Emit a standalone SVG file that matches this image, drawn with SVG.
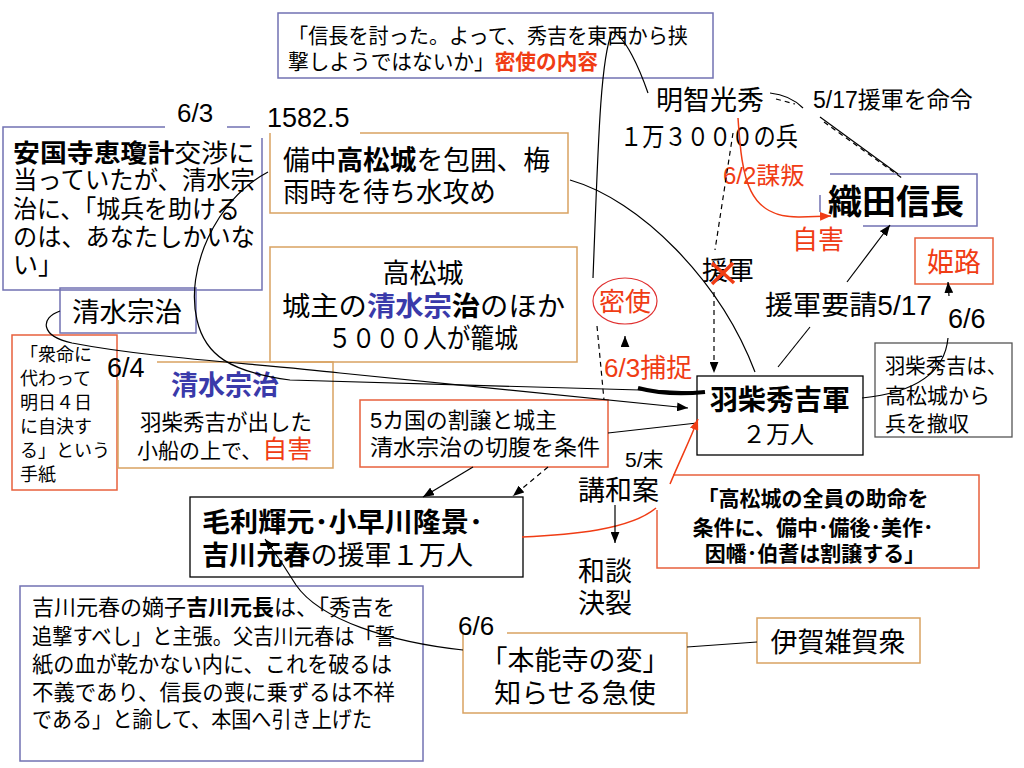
<svg xmlns="http://www.w3.org/2000/svg" width="1024" height="768" viewBox="0 0 1024 768">
<defs>
<style>
text{font-family:"Liberation Sans","Noto Sans CJK JP",sans-serif;fill:#000}
.b{font-weight:bold}
.r{fill:#F03C14}
.u{fill:#3A3AAA}
.bn{fill:none;stroke:#7272B2;stroke-width:1.5}
.bt{fill:none;stroke:#D9A262;stroke-width:1.5}
.br{fill:none;stroke:#E8603C;stroke-width:1.5}
.bk{fill:none;stroke:#000;stroke-width:1.3}
.bg{fill:none;stroke:#555;stroke-width:1.3}
.ln{fill:none;stroke:#000;stroke-width:1.2}
.lr{fill:none;stroke:#F03C14;stroke-width:1.5}
.d{stroke-dasharray:5,4}
</style>
<marker id="ah" viewBox="0 0 10 8" refX="10" refY="4" markerWidth="11" markerHeight="9" markerUnits="userSpaceOnUse" orient="auto"><path d="M0,0 L10,4 L0,8 z" fill="#000"/></marker>
<marker id="ahr" viewBox="0 0 10 8" refX="10" refY="4" markerWidth="11" markerHeight="9" markerUnits="userSpaceOnUse" orient="auto"><path d="M0,0 L10,4 L0,8 z" fill="#F03C14"/></marker>
</defs>
<rect width="1024" height="768" fill="#fff"/>

<g id="n-secret-content">
<rect x="278" y="13" width="435" height="65" class="bn"/>
<text x="288" y="43" font-size="21" textLength="400" lengthAdjust="spacingAndGlyphs">「信長を討った。よって、秀吉を東西から挟</text>
<text x="288" y="69" font-size="21" textLength="310" lengthAdjust="spacingAndGlyphs">撃しようではないか」<tspan class="r b">密使の内容</tspan></text>
</g>

<g id="n-ankokuji">
<path d="M165,127 H3 V290 H262 V138 M227,127 H250" class="bn"/>
<text x="13" y="162" font-size="25" textLength="242" lengthAdjust="spacingAndGlyphs"><tspan class="b">安国寺恵瓊計</tspan>交渉に</text>
<text x="13" y="189" font-size="25" textLength="242" lengthAdjust="spacingAndGlyphs">当っていたが、清水宗</text>
<text x="13" y="218" font-size="25" textLength="227" lengthAdjust="spacingAndGlyphs">治に、「城兵を助ける</text>
<text x="13" y="246" font-size="25" textLength="242" lengthAdjust="spacingAndGlyphs">のは、あなたしかいな</text>
<text x="13" y="274" font-size="25">い」</text>
</g>

<g id="n-date63">
<text x="177" y="122" font-size="26">6/3</text>
</g>

<g id="n-bitchu">
<path d="M360,133 H568 V213 H270 V133" class="bt"/>
<text x="283" y="170" font-size="27" textLength="267" lengthAdjust="spacingAndGlyphs">備中<tspan class="b">高松城</tspan>を包囲、梅</text>
<text x="283" y="202" font-size="27" textLength="213" lengthAdjust="spacingAndGlyphs">雨時を待ち水攻め</text>
</g>

<g id="n-year">
<text x="267" y="127" font-size="27">1582.5</text>
</g>

<g id="n-takamatsu">
<rect x="270" y="247" width="307" height="115" class="bt"/>
<text x="423" y="283" font-size="27" text-anchor="middle">高松城</text>
<text x="282" y="316" font-size="27" textLength="283" lengthAdjust="spacingAndGlyphs">城主の<tspan class="u b">清水宗</tspan><tspan class="b">治</tspan>のほか</text>
<text x="328" y="348" font-size="27" textLength="190" lengthAdjust="spacingAndGlyphs">５０００人が籠城</text>
</g>

<g id="n-shimizu">
<rect x="60" y="288" width="136" height="45" class="bn" fill="#fff"/>
<text x="72" y="322" font-size="27" textLength="110" lengthAdjust="spacingAndGlyphs">清水宗治</text>
</g>

<g id="n-letter">
<rect x="12" y="335" width="105" height="155" class="br"/>
<text x="20" y="361" font-size="18">「衆命に</text>
<text x="20" y="385" font-size="18">代わって</text>
<text x="20" y="409" font-size="18">明日４日</text>
<text x="20" y="433" font-size="18">に自決す</text>
<text x="20" y="457" font-size="18">る」という</text>
<text x="20" y="481" font-size="18">手紙</text>
</g>

<g id="n-seppuku">
<path d="M157,362 H333 V468 H118 V380" class="bt"/>
<text x="107" y="377" font-size="27">6/4</text>
<text x="225" y="395" font-size="27" text-anchor="middle" class="u b">清水宗治</text>
<text x="140" y="430" font-size="21.5" textLength="172" lengthAdjust="spacingAndGlyphs">羽柴秀吉が出した</text>
<text x="137" y="458" font-size="21">小船の上で、<tspan class="r" font-size="25">自害</tspan></text>
</g>

<g id="n-akechi">
<text x="656" y="110" font-size="27">明智光秀</text>
<text x="620" y="146" font-size="26" textLength="178" lengthAdjust="spacingAndGlyphs">１万３０００の兵</text>
</g>

<g id="n-order">
<text x="813" y="108" font-size="23">5/17援軍を命令</text>
</g>

<g id="n-rebellion">
<text x="723" y="184" font-size="24" class="r">6/2謀叛</text>
</g>

<g id="n-nobunaga">
<path d="M830,174 H977 V226 H863 M820,195 V212" class="bn"/>
<text x="828" y="214" font-size="34" class="b">織田信長</text>
</g>

<g id="n-jigai">
<text x="792" y="249" font-size="26" class="r">自害</text>
</g>

<g id="n-himeji">
<rect x="915" y="238" width="78" height="46" class="br"/>
<text x="954" y="272" font-size="27" text-anchor="middle" class="r">姫路</text>
</g>

<g id="n-reinforce">
<text x="702" y="280" font-size="26">援軍</text>
<path d="M712,263 L734,283 M733,263 L712,284" fill="none" stroke="#F03C14" stroke-width="3.5"/>
</g>

<g id="n-request">
<text x="765" y="315" font-size="27" textLength="167" lengthAdjust="spacingAndGlyphs">援軍要請5/17</text>
</g>

<g id="n-date66a">
<text x="948" y="328" font-size="27">6/6</text>
</g>

<g id="n-mishi">
<ellipse cx="625" cy="301" rx="32" ry="23" fill="none" stroke="#E03030" stroke-width="1.2"/>
<text x="625" y="311" font-size="26" text-anchor="middle" class="r">密使</text>
</g>

<g id="n-capture">
<text x="604" y="377" font-size="26" class="r">6/3捕捉</text>
</g>

<g id="n-hideyoshi">
<rect x="697" y="376" width="166" height="79" class="bk"/>
<text x="780" y="410" font-size="28" text-anchor="middle" class="b">羽柴秀吉軍</text>
<text x="778" y="443" font-size="24" text-anchor="middle">２万人</text>
</g>

<g id="n-withdraw">
<rect x="875" y="343" width="137" height="94" class="bg"/>
<text x="885" y="373" font-size="21" textLength="122" lengthAdjust="spacingAndGlyphs">羽柴秀吉は、</text>
<text x="885" y="403" font-size="21">高松城から</text>
<text x="885" y="431" font-size="21">兵を撤収</text>
</g>

<g id="n-cession">
<rect x="360" y="400" width="248" height="67" class="br"/>
<text x="370" y="428" font-size="22" textLength="187" lengthAdjust="spacingAndGlyphs">5カ国の割譲と城主</text>
<text x="370" y="455" font-size="22" textLength="230" lengthAdjust="spacingAndGlyphs">清水宗治の切腹を条件</text>
</g>

<g id="n-mori">
<rect x="190" y="497" width="333" height="80" class="bk"/>
<text x="202" y="532" font-size="27" class="b" textLength="281" lengthAdjust="spacingAndGlyphs">毛利輝元･小早川隆景･</text>
<text x="202" y="565" font-size="27" textLength="271" lengthAdjust="spacingAndGlyphs"><tspan class="b">吉川元春</tspan>の援軍１万人</text>
</g>

<g id="n-terms">
<path d="M673,475 H979 V568 H657 V510" class="br"/>
<text x="813" y="506" font-size="21" class="b" text-anchor="middle">「高松城の全員の助命を</text>
<text x="813" y="535" font-size="21" class="b" text-anchor="middle">条件に、備中･備後･美作･</text>
<text x="815" y="561" font-size="21" class="b" text-anchor="middle">因幡･伯耆は割譲する」</text>
</g>

<g id="n-peace">
<text x="625" y="467" font-size="21">5/末</text>
<text x="578" y="500" font-size="27">講和案</text>
</g>

<g id="n-breakdown">
<text x="578" y="581" font-size="27">和談</text>
<text x="578" y="613" font-size="27">決裂</text>
</g>

<g id="n-motonaga">
<rect x="20" y="586" width="403" height="175" class="bn"/>
<text x="32" y="615" font-size="21.5" textLength="363" lengthAdjust="spacingAndGlyphs">吉川元春の嫡子<tspan class="b">吉川元長</tspan>は、「秀吉を</text>
<text x="32" y="644" font-size="21.5" textLength="363" lengthAdjust="spacingAndGlyphs">追撃すべし」と主張。父吉川元春は「誓</text>
<text x="32" y="672" font-size="21.5" textLength="360" lengthAdjust="spacingAndGlyphs">紙の血が乾かない内に、これを破るは</text>
<text x="32" y="700" font-size="21.5" textLength="363" lengthAdjust="spacingAndGlyphs">不義であり、信長の喪に乗ずるは不祥</text>
<text x="32" y="727" font-size="21.5" textLength="340" lengthAdjust="spacingAndGlyphs">である」と諭して、本国へ引き上げた</text>
</g>

<g id="n-honnoji">
<path d="M507,633 H687 V713 H463 V633" class="bt"/>
<text x="458" y="635" font-size="26">6/6</text>
<text x="575" y="670" font-size="27" text-anchor="middle">「本能寺の変」</text>
<text x="575" y="703" font-size="27" text-anchor="middle">知らせる急使</text>
</g>

<g id="n-iga">
<rect x="757" y="618" width="163" height="45" class="bt"/>
<text x="838" y="652" font-size="27" text-anchor="middle">伊賀雑賀衆</text>
</g>

<g id="connectors">
<path d="M268,172 C215,200 185,270 197,320 C205,355 230,372 290,380 L640,390 Q680,391 705,393" class="ln"/>
<path d="M638,388 Q668,396 705,392" fill="none" stroke="#000" stroke-width="4"/>
<path d="M60,311 C40,318 40,336 72,343 C150,358 250,363 340,373 L688,408" class="ln" marker-end="url(#ah)"/>
<path d="M570,180 C640,200 720,280 755,372" class="ln"/>
<path d="M593,278 C598,150 600,60 612,32 C625,35 640,70 648,93" class="ln"/>
<path d="M597,326 L604,400" class="ln d"/>
<path d="M625,346 L625,336" class="ln" stroke-width="2" marker-end="url(#ah)"/>
<path d="M733,133 L715,250" class="ln d"/>
<path d="M714,292 L714,373" class="ln d" marker-end="url(#ah)"/>
<path d="M770,93 Q790,95 803,108" class="ln"/>
<path d="M776,99 L795,104" class="ln d"/>
<path d="M820,117 L898,174" class="ln"/>
<path d="M824,122 L902,178" class="ln d"/>
<path d="M738,118 C742,180 748,218 800,217 L831,216" class="lr" marker-end="url(#ahr)"/>
<path d="M847,282 L890,225" class="ln" marker-end="url(#ah)"/>
<path d="M778,367 L810,327" class="ln"/>
<path d="M949,296 L948,282" class="ln" marker-end="url(#ah)"/>
<path d="M862,398 C920,392 945,370 948,338" class="ln"/>
<path d="M608,433 L697,423" class="ln"/>
<path d="M670,484 C680,460 690,440 698,419" class="lr" marker-end="url(#ahr)"/>
<path d="M522,537 C570,535 630,530 656,508" class="lr"/>
<path d="M473,467 L423,497" class="ln" marker-end="url(#ah)"/>
<path d="M548,467 L513,496" class="ln d" marker-end="url(#ah)"/>
<path d="M615,505 L615,543" class="ln" marker-end="url(#ah)"/>
<path d="M463,650 C390,642 320,620 296,585 Q282,562 265,539" class="ln" marker-end="url(#ah)"/>
<path d="M687,647 L757,642" class="ln"/>
</g>
</svg>
